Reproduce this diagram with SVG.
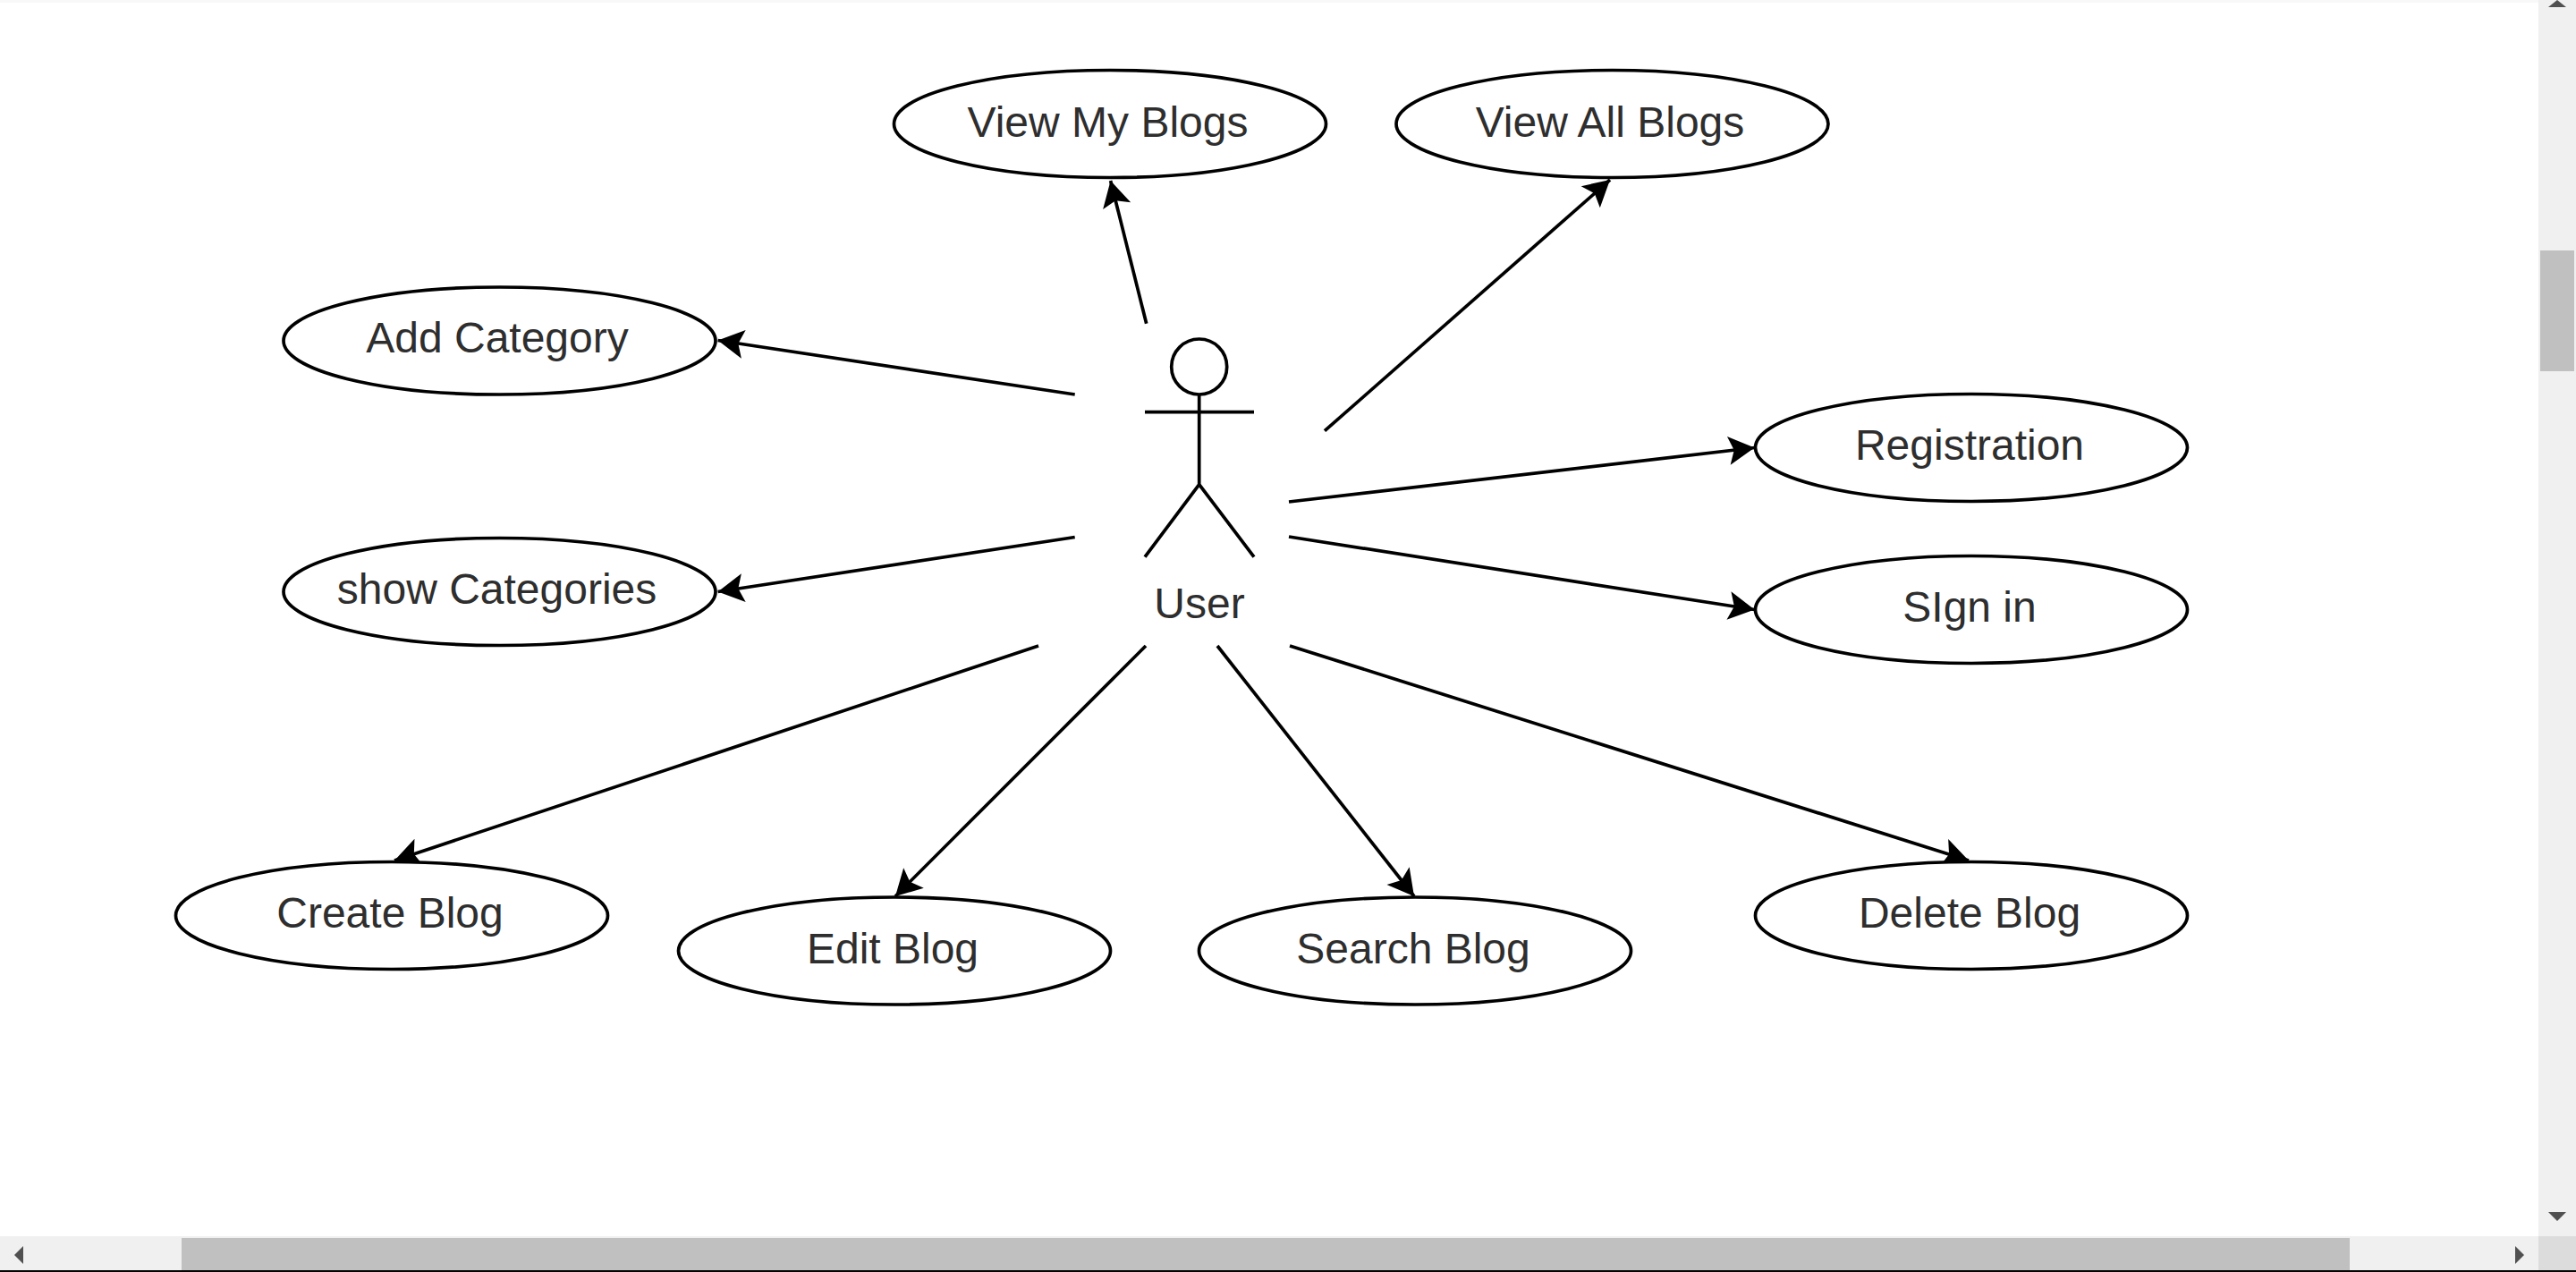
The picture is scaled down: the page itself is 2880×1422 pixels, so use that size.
<svg xmlns="http://www.w3.org/2000/svg" width="2880" height="1422" viewBox="0 0 2880 1422">
<style>
.e{fill:#fff;stroke:#000;stroke-width:3.7}
.t{font-family:"Liberation Sans",Arial,sans-serif;font-size:48px;fill:#2e2e2e;text-anchor:middle}
.c{fill:none;stroke:#000;stroke-width:3.7;marker-end:url(#a)}
.s{fill:none;stroke:#000;stroke-width:3.7}
.sb{fill:#f0f0f0}.th{fill:#c0c0c0}.ar{fill:#505050}
</style>
<defs><marker id="a" markerUnits="userSpaceOnUse" markerWidth="40" markerHeight="40" refX="30" refY="20" orient="auto" viewBox="0 0 40 40"><path d="M1 4L30 20L1 36L7 20Z" fill="#000"/></marker></defs>
<rect width="2880" height="1422" fill="#fff"/>
<rect width="2838" height="3" fill="#f8f8f8"/>
<g id="connectors">
<path class="c" d="M1281.7 361.7L1241.6 202"/>
<path class="c" d="M1481 481.7L1800 201"/>
<path class="c" d="M1201.7 441L802.6 380.5"/>
<path class="c" d="M1201.7 600.5L802.6 661.5"/>
<path class="c" d="M1441 561L1961.6 500.5"/>
<path class="c" d="M1441 600L1961.6 681.5"/>
<path class="c" d="M1161 722L441 962"/>
<path class="c" d="M1281 722L1001 1002"/>
<path class="c" d="M1361 722L1581 1002"/>
<path class="c" d="M1442 722L2201 962"/>
</g>
<g id="actor-user">
<circle class="s" cx="1340.7" cy="410" r="31"/>
<path class="s" d="M1340.7 441V541.7M1280 460.7H1402M1280 622.7L1340.7 541.7L1402 622.7"/>
<text class="t" x="1341" y="691">User</text>
</g>
<g id="view-my-blogs"><ellipse class="e" cx="1241" cy="138.5" rx="241.5" ry="60"/><text class="t" x="1238.5" y="153">View My Blogs</text></g>
<g id="view-all-blogs"><ellipse class="e" cx="1802.5" cy="138.5" rx="241.5" ry="60"/><text class="t" x="1800" y="153">View All Blogs</text></g>
<g id="add-category"><ellipse class="e" cx="558.5" cy="381" rx="241.5" ry="60"/><text class="t" x="556" y="394">Add Category</text></g>
<g id="show-categories"><ellipse class="e" cx="558.5" cy="661.5" rx="241.5" ry="60"/><text class="t" x="555.5" y="675">show Categories</text></g>
<g id="registration"><ellipse class="e" cx="2204" cy="500.5" rx="241.5" ry="60"/><text class="t" x="2202" y="514">Registration</text></g>
<g id="sign-in"><ellipse class="e" cx="2204" cy="681.5" rx="241.5" ry="60"/><text class="t" x="2202" y="695">SIgn in</text></g>
<g id="create-blog"><ellipse class="e" cx="438" cy="1023.5" rx="241.5" ry="60"/><text class="t" x="436" y="1037">Create Blog</text></g>
<g id="edit-blog"><ellipse class="e" cx="1000" cy="1063" rx="241.5" ry="60"/><text class="t" x="998" y="1077">Edit Blog</text></g>
<g id="search-blog"><ellipse class="e" cx="1582" cy="1063" rx="241.5" ry="60"/><text class="t" x="1580" y="1077">Search Blog</text></g>
<g id="delete-blog"><ellipse class="e" cx="2204" cy="1023.5" rx="241.5" ry="60"/><text class="t" x="2202" y="1037">Delete Blog</text></g>
<rect class="sb" x="2838" y="0" width="42" height="1382"/>
<rect class="th" x="2840" y="280" width="38" height="135"/>
<path class="ar" d="M2859 0L2849 8H2869Z"/>
<path class="ar" d="M2849 1355H2869L2859 1365Z"/>
<rect class="sb" x="0" y="1382" width="2838" height="38"/>
<rect x="2838" y="1382" width="42" height="38" fill="#dcdcdc"/>
<rect class="th" x="203" y="1384" width="2424" height="36"/>
<path class="ar" d="M26 1393V1413L16 1403Z"/>
<path class="ar" d="M2812 1393V1413L2822 1403Z"/>
<rect y="1420" width="2880" height="2" fill="#000"/>
</svg>
